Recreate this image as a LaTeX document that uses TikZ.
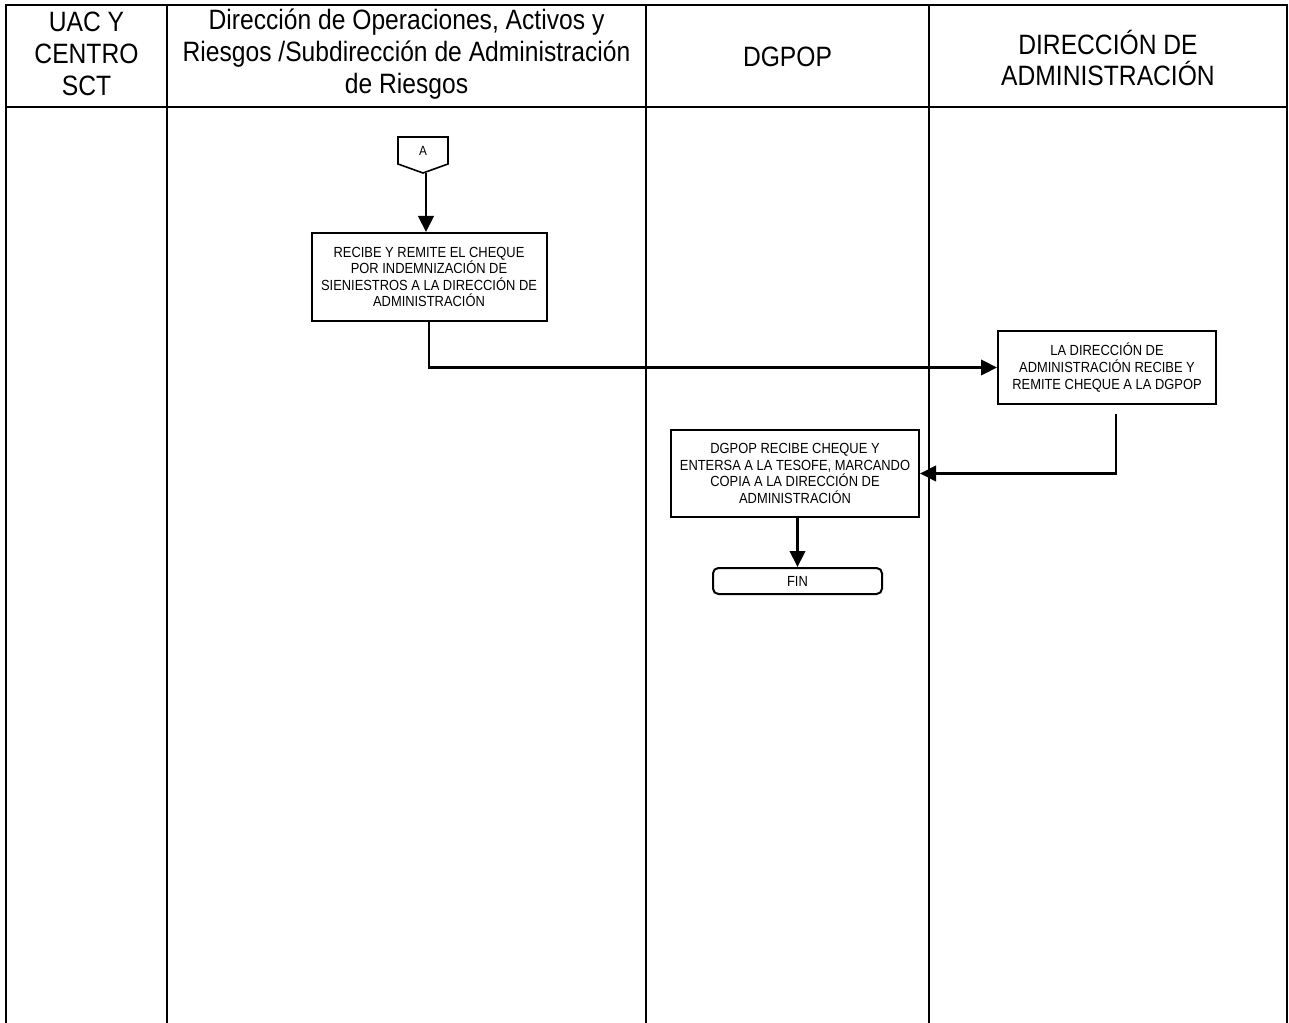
\documentclass[tikz,border=0pt]{standalone}
\usepackage{fontspec}
\setmainfont{Liberation Sans}[FakeStretch=0.88]
\usetikzlibrary{arrows.meta}
\begin{document}
\begin{tikzpicture}[x=0.75pt,y=-0.75pt,
  grid/.style={line width=2.2pt},
  hdr/.style={align=center,font=\fontsize{21}{24}\selectfont,inner sep=0pt},
  proc/.style={draw,line width=1.5pt,align=center,font=\fontsize{11}{12.4}\selectfont,inner sep=0pt},
  conn/.style={line width=2.2pt,-{Triangle[length=12pt,width=11.5pt]}}]
\useasboundingbox (0,0) rectangle (1289,1023);
% lanes
\draw[grid] (6,1023) -- (6,5) -- (1287,5) -- (1287,1023);
\draw[grid] (6,107) -- (1287,107);
\draw[grid] (167,5) -- (167,1023);
\draw[grid] (646,5) -- (646,1023);
\draw[grid] (929,5) -- (929,1023);
% headers
\node[hdr] (h1) at (86.5,54) {UAC Y\\CENTRO\\SCT};
\node[hdr] (h2) at (406.5,54) {Dirección de Operaciones, Activos y\\Riesgos /Subdirección de Administración\\de Riesgos};
\node[hdr] (h3) at (787.5,57) {DGPOP};
\node[hdr] (h4) at (1108,58) {DIRECCIÓN DE\\ADMINISTRACIÓN};
% off-page connector A
\draw[line width=1.2pt] (398,137) -- (448,137) -- (448,164) -- (423,173) -- (398,164) -- cycle;
\node[font=\fontsize{10}{12}\selectfont] (A) at (423,151) {A};
\coordinate (Atip) at (426,173);
% process boxes
\node[proc,minimum width=176.25pt,minimum height=66pt] (b1) at (429,277) {RECIBE Y REMITE EL CHEQUE\\POR INDEMNIZACIÓN DE\\SIENIESTROS A LA DIRECCIÓN DE\\ADMINISTRACIÓN};
\node[proc,minimum width=163.5pt,minimum height=54.75pt] (b2) at (1107,367.5) {LA DIRECCIÓN DE\\ADMINISTRACIÓN RECIBE Y\\REMITE CHEQUE A LA DGPOP};
\node[proc,minimum width=186pt,minimum height=65.25pt] (b3) at (795,473.5) {DGPOP RECIBE CHEQUE Y\\ENTERSA A LA TESOFE, MARCANDO\\COPIA A LA DIRECCIÓN DE\\ADMINISTRACIÓN};
\node[proc,rounded corners=4pt,minimum width=126.75pt,minimum height=19.5pt] (fin) at (797.5,581) {FIN};
% connectors
\draw[conn] (Atip) -- (Atip |- b1.north);
\draw[conn] (b1.south) |- (b2.west);
\coordinate (c2) at (1116,414);
\draw[conn] (c2) |- (b3.east);
\draw[conn] (b3.south -| fin.north) -- (fin.north);
\end{tikzpicture}
\end{document}
